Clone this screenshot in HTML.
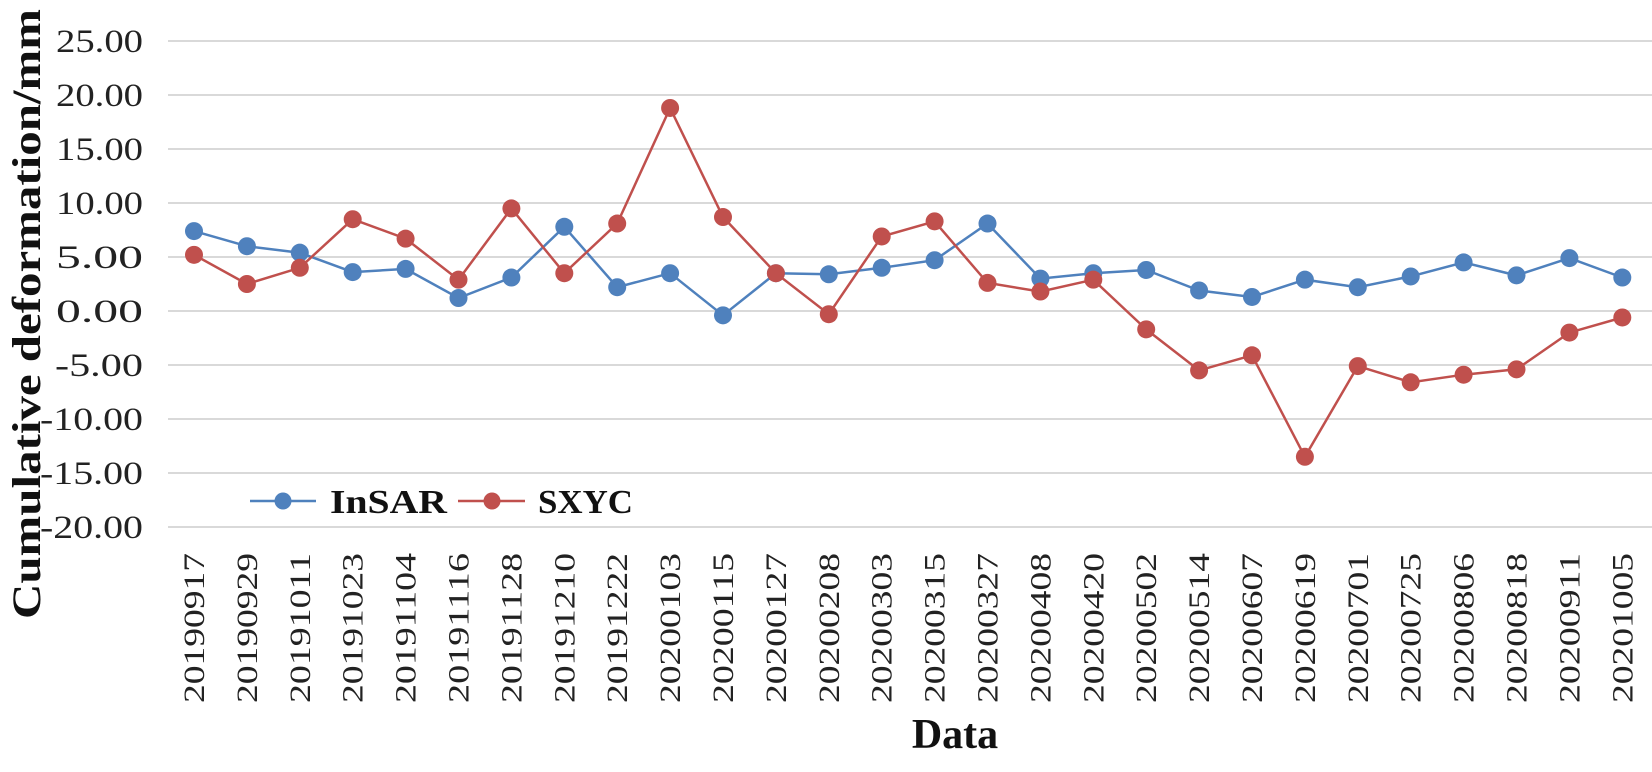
<!DOCTYPE html>
<html><head><meta charset="utf-8"><style>html,body{margin:0;padding:0;background:#fff;}</style></head>
<body>
<svg width="1652" height="767" xmlns="http://www.w3.org/2000/svg" font-family="'Liberation Serif', serif">
<g id="grid" stroke="#d9d9d9" stroke-width="2"></g>
<g id="ylab" font-size="33" fill="#222" text-anchor="end"></g>
<g id="xlab" font-size="30" fill="#222"></g>
<g id="series"></g>
<text transform="translate(40,314) rotate(-90)" text-anchor="middle" font-size="40" font-weight="bold" fill="#111" textLength="610" lengthAdjust="spacingAndGlyphs">Cumulative deformation/mm</text>
<text x="955" y="748" text-anchor="middle" font-size="42" font-weight="bold" fill="#111">Data</text>
<line x1="250" y1="501" x2="316" y2="501" stroke="#4f81bd" stroke-width="2.5"/>
<circle cx="283" cy="501" r="8.5" fill="#4f81bd"/>
<text x="330" y="513" font-size="34" font-weight="bold" fill="#111" textLength="117" lengthAdjust="spacingAndGlyphs">InSAR</text>
<line x1="458" y1="501" x2="525" y2="501" stroke="#c0504d" stroke-width="2.5"/>
<circle cx="492" cy="501" r="8.5" fill="#c0504d"/>
<text x="538" y="513" font-size="34" font-weight="bold" fill="#111" textLength="95" lengthAdjust="spacingAndGlyphs">SXYC</text>
<script>
var NS="http://www.w3.org/2000/svg";
function el(p,t,a,txt){var e=document.createElementNS(NS,t);for(var k in a)e.setAttribute(k,a[k]);if(txt!==undefined)e.textContent=txt;p.appendChild(e);return e;}
function Y(v){return 311-v*10.8;}
function X(i){return 194+52.9*i;}
var g=document.getElementById('grid'),yl=document.getElementById('ylab'),xl=document.getElementById('xlab'),s=document.getElementById('series');
for(var v=25;v>=-20;v-=5){el(g,'line',{x1:168,x2:1652,y1:Y(v),y2:Y(v)});
el(yl,'text',{x:143,y:Y(v)+11,textLength:(v<=-10?103:(v<0?88:87)),lengthAdjust:'spacingAndGlyphs'},v.toFixed(2));}
var dates=["20190917","20190929","20191011","20191023","20191104","20191116","20191128","20191210","20191222","20200103","20200115","20200127","20200208","20200303","20200315","20200327","20200408","20200420","20200502","20200514","20200607","20200619","20200701","20200725","20200806","20200818","20200911","20201005"];
dates.forEach(function(d,i){var x=X(i)+10;el(xl,'text',{transform:'translate('+x+',703) rotate(-90)',textLength:150,lengthAdjust:'spacingAndGlyphs'},d);});
var ins=[7.4,6.0,5.4,3.6,3.9,1.2,3.1,7.8,2.2,3.5,-0.4,3.5,3.4,4.0,4.7,8.1,3.0,3.5,3.8,1.9,1.3,2.9,2.2,3.2,4.5,3.3,4.9,3.1];
var sx=[5.2,2.5,4.0,8.5,6.7,2.9,9.5,3.5,8.1,18.8,8.7,3.5,-0.3,6.9,8.3,2.6,1.8,2.9,-1.7,-5.5,-4.1,-13.5,-5.1,-6.6,-5.9,-5.4,-2.0,-0.6];
function draw(d,c){var p=d.map(function(v,i){return X(i).toFixed(1)+','+Y(v).toFixed(1);}).join(' ');
el(s,'polyline',{points:p,fill:'none',stroke:c,'stroke-width':2.5});
d.forEach(function(v,i){el(s,'circle',{cx:X(i),cy:Y(v),r:9,fill:c});});}
draw(ins,'#4f81bd');draw(sx,'#c0504d');
</script>
</svg>
</body></html>
